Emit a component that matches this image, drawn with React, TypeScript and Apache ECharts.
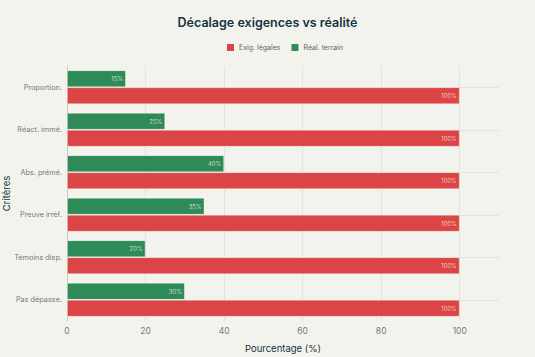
import React, { useEffect, useRef } from "react";
import * as echarts from "echarts";

const categories = ["Proportion.", "Réact. immé.", "Abs. prémé.", "Preuve irréf.", "Témoins disp.", "Pas dépasse."];
const legalValues = [100, 100, 100, 100, 100, 100];
const fieldValues = [15, 25, 40, 35, 20, 30];
const xTicks = [0, 20, 40, 60, 80, 100];

const FONT = "Inter, 'Liberation Sans', sans-serif";

export default function App() {
  const ref = useRef<HTMLDivElement>(null);
  useEffect(() => {
    if (!ref.current) return;
    const chart = echarts.init(ref.current, null, { renderer: "svg" });
    chart.setOption({
      animation: false,
      backgroundColor: "#F3F3EE",
      textStyle: { fontFamily: FONT },
      title: {
        text: "Décalage exigences vs réalité",
        left: "center",
        top: 11,
        textStyle: { fontFamily: FONT, fontSize: 12.5, fontWeight: 600, color: "#13343B" },
      },
      legend: {
        data: ["Exig. légales", "Réal. terrain"],
        top: 39,
        left: 222,
        icon: "rect",
        itemWidth: 7,
        itemHeight: 7,
        itemGap: 11,
        itemStyle: { borderWidth: 0 },
        textStyle: { fontFamily: FONT, fontSize: 7, color: "#5A6468" },
      },
      grid: { left: 67, right: 36, top: 66, bottom: 36, containLabel: false, outerBoundsMode: "none" },
      xAxis: {
        type: "value",
        min: 0,
        max: 110,
        interval: 20,
        name: "Pourcentage (%)",
        nameLocation: "middle",
        nameGap: 22,
        nameMoveOverlap: false,
        nameTextStyle: { fontFamily: FONT, fontSize: 9.5, color: "#13343B" },
        axisLine: { show: false },
        axisTick: { show: false },
        axisLabel: {
          fontFamily: FONT,
          fontSize: 8.5,
          color: "#777",
          margin: 5,
          formatter: (v: number) => (xTicks.includes(v) ? String(v) : ""),
        },
        splitLine: {
          show: true,
          lineStyle: { color: ["#DDDDD8", "#E3E3DE", "#E3E3DE", "#E3E3DE", "#E3E3DE", "#E3E3DE", "transparent"], width: 1 },
        },
      },
      yAxis: [
        {
          type: "category",
          data: categories,
          inverse: true,
          name: "Critères",
          nameLocation: "middle",
          nameGap: 56,
          nameMoveOverlap: false,
          nameTextStyle: { fontFamily: FONT, fontSize: 9.5, color: "#13343B" },
          axisLine: { show: true, lineStyle: { color: "#C8C8C4", width: 1 } },
          axisTick: { show: false },
          axisLabel: { fontFamily: FONT, fontSize: 7.3, color: "#777", margin: 5 },
          splitLine: { show: false },
        },
        {
          type: "value",
          min: 0,
          max: 12,
          interval: 1,
          show: true,
          axisLine: { show: false },
          axisTick: { show: false },
          axisLabel: { show: false },
          splitLine: { show: true, lineStyle: { color: ["transparent", "#E3E3DE"], width: 1 } },
        },
      ],
      series: [
        {
          name: "Réal. terrain",
          type: "bar",
          yAxisIndex: 0,
          data: fieldValues,
          barGap: "0%",
          barCategoryGap: "20%",
          itemStyle: { color: "#2E8B57", borderColor: "rgba(255,255,255,0.5)", borderWidth: 0.8 },
          label: {
            show: true,
            position: "insideRight",
            formatter: (p: any) => p.value + "%",
            fontFamily: FONT,
            fontSize: 6,
            fontWeight: 300,
            color: "#E8F0EA",
            distance: 3,
          },
        },
        {
          name: "Exig. légales",
          type: "bar",
          yAxisIndex: 0,
          data: legalValues,
          barGap: "0%",
          barCategoryGap: "20%",
          itemStyle: { color: "#DB4545", borderColor: "rgba(255,255,255,0.5)", borderWidth: 0.8 },
          label: {
            show: true,
            position: "insideRight",
            formatter: (p: any) => p.value + "%",
            fontFamily: FONT,
            fontSize: 6,
            fontWeight: 300,
            color: "#F5E0E0",
            distance: 3,
          },
        },
      ],
      color: ["#2E8B57", "#DB4545"],
    });
    return () => chart.dispose();
  }, []);
  return <div ref={ref} style={{ position: "absolute", left: 0, top: 0, width: 535, height: 357 }} />;
}
